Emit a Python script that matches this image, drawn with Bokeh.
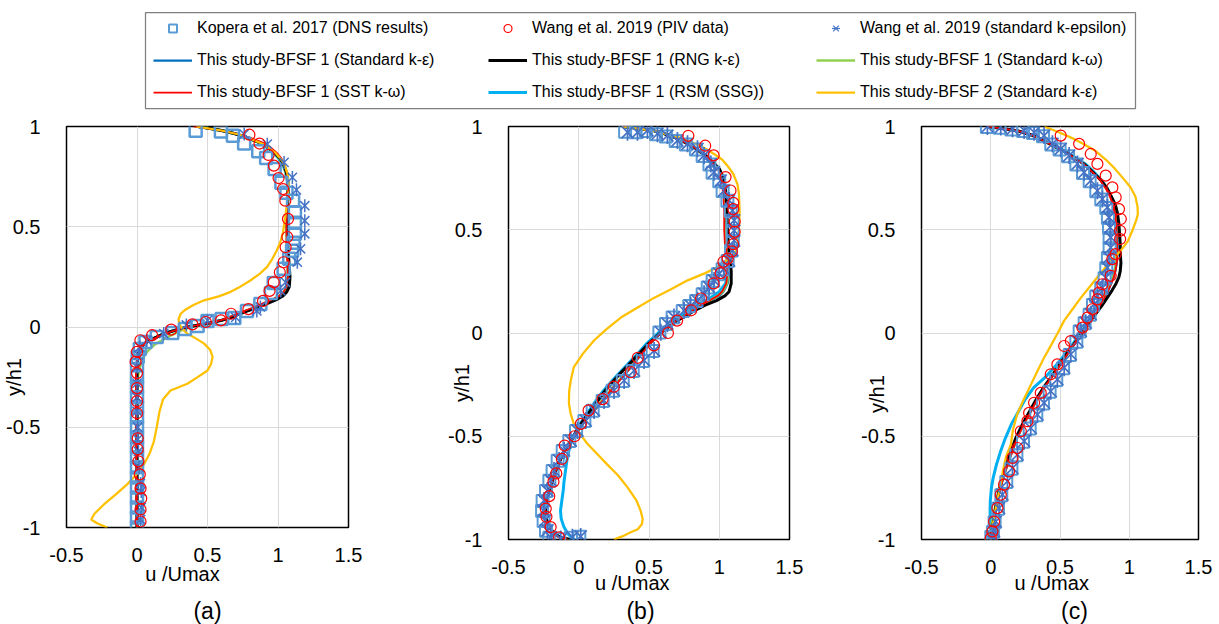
import math
from bokeh.plotting import figure
from bokeh.layouts import column, row
from bokeh.models import Range1d, FixedTicker, Legend, LegendItem
from bokeh.core.properties import value
from bokeh.embed import file_html
from bokeh.resources import INLINE

FONT = "Liberation Sans"
X_TICKS = [-0.5, 0, 0.5, 1, 1.5]
X_TICK_LABELS = ["-0.5", "0", "0.5", "1", "1.5"]
Y_TICKS = [-1, -0.5, 0, 0.5, 1]
Y_TICK_LABELS = ["-1", "-0.5", "0", "0.5", "1"]
X_TITLE = "u /Umax"
Y_TITLE = "y/h1"
PANEL_TAGS = ["(a)", "(b)", "(c)"]
NBSP = "\u00a0"

NAMES = {
    "sq": "Kopera et al. 2017 (DNS results)",
    "ci": "Wang et al. 2019 (PIV data)",
    "as": "Wang et al. 2019 (standard k-epsilon)",
    "ske": "This study-BFSF 1 (Standard k-\u03b5)",
    "rng": "This study-BFSF 1 (RNG k-\u03b5)",
    "skw": "This study-BFSF 1 (Standard k-\u03c9)",
    "sst": "This study-BFSF 1 (SST k-\u03c9)",
    "rsm": "This study-BFSF 1 (RSM (SSG))",
    "bf2": "This study-BFSF 2 (Standard k-\u03b5)",
}

# ---------------- panel (a) ----------------
A_Y = [1.0, 0.99, 0.98, 0.965, 0.945, 0.92, 0.895, 0.87, 0.84, 0.81, 0.77, 0.73, 0.68, 0.6, 0.5,
       0.4, 0.3, 0.25, 0.2, 0.175, 0.155, 0.135, 0.113, 0.095, 0.08, 0.065, 0.047, 0.033, 0.015, 0.0,
       -0.012, -0.025, -0.04, -0.058, -0.075, -0.091, -0.11, -0.133, -0.16, -0.2, -0.25, -0.3, -0.4,
       -0.5, -0.6, -0.7, -0.8, -0.9, -0.95, -1.0]
A_SKE = [0.43, 0.52, 0.6, 0.69, 0.78, 0.87, 0.93, 0.975, 1.015, 1.04, 1.06, 1.07, 1.072, 1.068, 1.064,
         1.066, 1.072, 1.075, 1.066, 1.048, 1.02, 0.97, 0.9, 0.84, 0.78, 0.72, 0.66, 0.6, 0.48, 0.36,
         0.29, 0.235, 0.175, 0.12, 0.075, 0.045, 0.025, 0.012, 0.005, 0.0, 0.0, 0.0, 0.0,
         0.0, 0.0, 0.0, 0.0, 0.0, 0.0, 0.0]
A_RNG = [0.43, 0.52, 0.6, 0.69, 0.78, 0.87, 0.93, 0.975, 1.015, 1.04, 1.06, 1.07, 1.072, 1.068, 1.066,
         1.07, 1.08, 1.085, 1.08, 1.062, 1.035, 0.985, 0.91, 0.845, 0.785, 0.725, 0.665, 0.6, 0.48, 0.36,
         0.29, 0.23, 0.17, 0.115, 0.07, 0.04, 0.02, 0.01, 0.004, 0.0, 0.0, 0.0, 0.0,
         0.0, 0.0, 0.0, 0.0, 0.0, 0.0, 0.0]
A_SKW = [0.43, 0.52, 0.6, 0.69, 0.78, 0.865, 0.925, 0.97, 1.01, 1.035, 1.055, 1.065, 1.068, 1.065, 1.06,
         1.062, 1.068, 1.07, 1.06, 1.042, 1.01, 0.96, 0.89, 0.83, 0.77, 0.715, 0.655, 0.6, 0.49, 0.38,
         0.33, 0.29, 0.245, 0.2, 0.155, 0.12, 0.09, 0.06, 0.04, 0.02, 0.006, 0.0, 0.0,
         0.0, 0.0, 0.0, 0.0, 0.0, 0.0, 0.0]
A_SST = [0.4, 0.5, 0.59, 0.7, 0.8, 0.89, 0.95, 0.99, 1.025, 1.045, 1.062, 1.07, 1.07, 1.064, 1.06,
         1.062, 1.068, 1.07, 1.06, 1.04, 1.008, 0.95, 0.875, 0.815, 0.76, 0.705, 0.65, 0.59, 0.475, 0.355,
         0.29, 0.235, 0.175, 0.12, 0.075, 0.045, 0.025, 0.01, 0.0, -0.005, -0.008, -0.008, -0.006,
         -0.005, -0.004, -0.003, -0.002, 0.0, 0.0, 0.0]
A_RSM = [0.43, 0.52, 0.6, 0.69, 0.78, 0.865, 0.925, 0.965, 1.005, 1.035, 1.055, 1.065, 1.07, 1.068, 1.064,
         1.066, 1.07, 1.072, 1.062, 1.045, 1.015, 0.965, 0.895, 0.835, 0.775, 0.715, 0.655, 0.595, 0.475, 0.355,
         0.285, 0.23, 0.17, 0.115, 0.07, 0.04, 0.02, 0.008, 0.002, 0.0, 0.0, 0.0, 0.0,
         0.0, 0.0, 0.0, 0.0, 0.0, 0.0, 0.0]
A_BF2_Y = [1.0, 0.98, 0.96, 0.94, 0.91, 0.87, 0.82, 0.76, 0.7, 0.62, 0.54, 0.47, 0.42, 0.38, 0.34,
           0.3, 0.265, 0.232, 0.2, 0.174, 0.153, 0.133, 0.11, 0.085, 0.066, 0.04, 0.017, -0.008, -0.033,
           -0.058, -0.083, -0.115, -0.15, -0.185, -0.217, -0.25, -0.283, -0.317, -0.36, -0.42, -0.5,
           -0.57, -0.63, -0.685, -0.74, -0.785, -0.835, -0.885, -0.93, -0.96, -0.98, -1.0]
A_BF2_X = [0.42, 0.6, 0.72, 0.8, 0.9, 0.98, 1.04, 1.07, 1.075, 1.065, 1.05, 1.035, 1.015, 0.99, 0.96,
           0.923, 0.87, 0.804, 0.73, 0.66, 0.58, 0.476, 0.4, 0.34, 0.31, 0.295, 0.298, 0.32, 0.357,
           0.42, 0.476, 0.52, 0.536, 0.525, 0.5, 0.43, 0.357, 0.238, 0.185, 0.16, 0.14,
           0.12, 0.09, 0.05, -0.01, -0.07, -0.15, -0.235, -0.3, -0.325, -0.28, -0.21]
A_SQ_X = [0.416, 0.595, 0.68, 0.76, 0.86, 0.916, 0.976, 1.024, 1.06, 1.107, 1.12, 1.12, 1.12, 1.11, 1.1,
          1.08, 1.04, 0.97, 0.95, 0.875, 0.78, 0.69, 0.6, 0.5, 0.43, 0.34, 0.25, 0.14, 0.06, 0.02,
          0.005, 0.0, 0.0, 0.0, 0.0, 0.0, 0.0, 0.0, 0.0, 0.0, 0.0, 0.0, 0.0, 0.0, 0.0, 0.0, 0.0, 0.0]
A_SQ_Y = [0.979, 0.975, 0.954, 0.915, 0.876, 0.843, 0.788, 0.72, 0.67, 0.63, 0.572, 0.52, 0.465, 0.42, 0.38,
          0.34, 0.29, 0.22, 0.17, 0.115, 0.08, 0.045, 0.04, 0.03, 0.005, -0.01, -0.03, -0.05, -0.075, -0.11,
          -0.15, -0.19, -0.25, -0.3, -0.35, -0.4, -0.45, -0.5, -0.55, -0.6, -0.65, -0.7, -0.75, -0.8,
          -0.85, -0.9, -0.95, -1.0]
A_CI_X = [0.797, 0.869, 0.933, 0.971, 1.004, 1.036, 1.052, 1.071, 1.066, 1.054, 1.04, 1.013, 0.97, 0.94,
          0.894, 0.79, 0.667, 0.595, 0.488, 0.393, 0.243, 0.107, 0.024, 0.0, -0.01, 0.0, 0.0, 0.0, 0.0,
          0.005, 0.005, 0.01, 0.02, 0.025, 0.03, 0.025, 0.025]
A_CI_Y = [0.959, 0.915, 0.858, 0.805, 0.743, 0.688, 0.63, 0.539, 0.449, 0.398, 0.323, 0.273, 0.223, 0.18,
          0.13, 0.089, 0.066, 0.033, 0.025, 0.013, -0.013, -0.041, -0.066, -0.124, -0.174, -0.23, -0.305,
          -0.37, -0.43, -0.555, -0.61, -0.67, -0.735, -0.805, -0.855, -0.91, -0.97]
A_AS_X = [0.76, 0.924, 1.043, 1.102, 1.131, 1.19, 1.19, 1.19, 1.16, 1.137, 1.054, 1.02, 0.875, 0.85, 0.7,
          0.5, 0.35, 0.19, 0.07, 0.02, 0.01, 0.0, 0.0, 0.0, 0.0, 0.005, 0.005, 0.01, 0.015, 0.025, 0.03,
          0.03, 0.025]
A_AS_Y = [0.962, 0.912, 0.821, 0.746, 0.684, 0.605, 0.53, 0.465, 0.39, 0.323, 0.223, 0.18, 0.1, 0.08,
          0.048, 0.033, 0.01, -0.033, -0.066, -0.1, -0.14, -0.2, -0.28, -0.35, -0.42, -0.5, -0.56, -0.62,
          -0.7, -0.78, -0.82, -0.9, -0.96]

# ---------------- panel (b) ----------------
B_Y = [1.0, 0.99, 0.98, 0.965, 0.948, 0.925, 0.9, 0.875, 0.85, 0.82, 0.795, 0.76, 0.72, 0.66, 0.59,
       0.5, 0.43, 0.366, 0.3, 0.24, 0.2, 0.18, 0.157, 0.135, 0.11, 0.085, 0.06, 0.03, 0.0, -0.05,
       -0.1, -0.15, -0.2, -0.26, -0.31, -0.36, -0.43, -0.49, -0.53, -0.57, -0.62, -0.67, -0.72, -0.76,
       -0.81, -0.86, -0.9, -0.94, -0.97, -0.99, -1.0]
B_SKE = [0.31, 0.43, 0.53, 0.61, 0.68, 0.75, 0.82, 0.87, 0.92, 0.965, 1.0, 1.02, 1.03, 1.04, 1.045,
         1.045, 1.05, 1.06, 1.07, 1.06, 1.03, 1.0, 0.94, 0.88, 0.82, 0.76, 0.7, 0.64, 0.585, 0.51,
         0.45, 0.39, 0.33, 0.25, 0.19, 0.13, 0.04, -0.02, -0.06, -0.1, -0.135, -0.165, -0.19, -0.21,
         -0.225, -0.235, -0.23, -0.21, -0.175, -0.13, -0.06]
B_RNG = [0.31, 0.43, 0.53, 0.61, 0.68, 0.75, 0.82, 0.87, 0.92, 0.965, 1.0, 1.025, 1.04, 1.05, 1.055,
         1.058, 1.065, 1.075, 1.085, 1.085, 1.07, 1.04, 0.98, 0.9, 0.83, 0.765, 0.7, 0.64, 0.58, 0.5,
         0.43, 0.36, 0.29, 0.21, 0.155, 0.1, 0.025, -0.03, -0.065, -0.1, -0.135, -0.165, -0.19, -0.21,
         -0.225, -0.235, -0.23, -0.21, -0.175, -0.13, -0.06]
B_SKW = [0.31, 0.43, 0.53, 0.61, 0.68, 0.75, 0.815, 0.865, 0.915, 0.96, 0.995, 1.02, 1.03, 1.04, 1.045,
         1.045, 1.05, 1.058, 1.066, 1.055, 1.025, 0.99, 0.93, 0.87, 0.81, 0.755, 0.695, 0.635, 0.58, 0.505,
         0.445, 0.385, 0.325, 0.245, 0.185, 0.125, 0.035, -0.025, -0.065, -0.1, -0.135, -0.165, -0.19, -0.21,
         -0.225, -0.235, -0.23, -0.21, -0.175, -0.13, -0.06]
B_SST = [0.31, 0.43, 0.53, 0.61, 0.68, 0.75, 0.82, 0.87, 0.915, 0.955, 0.99, 1.01, 1.02, 1.03, 1.035,
         1.035, 1.04, 1.05, 1.06, 1.05, 1.02, 0.99, 0.93, 0.87, 0.81, 0.755, 0.695, 0.64, 0.585, 0.51,
         0.45, 0.39, 0.33, 0.25, 0.19, 0.13, 0.04, -0.02, -0.06, -0.1, -0.135, -0.165, -0.19, -0.21,
         -0.228, -0.24, -0.235, -0.215, -0.18, -0.14, -0.08]
B_RSM = [0.31, 0.43, 0.53, 0.61, 0.68, 0.75, 0.82, 0.87, 0.92, 0.965, 1.0, 1.02, 1.03, 1.04, 1.045,
         1.045, 1.05, 1.058, 1.06, 1.045, 1.0, 0.96, 0.9, 0.84, 0.785, 0.73, 0.675, 0.62, 0.565, 0.485,
         0.42, 0.35, 0.28, 0.2, 0.14, 0.09, 0.02, -0.03, -0.055, -0.07, -0.085, -0.095, -0.105, -0.11,
         -0.12, -0.13, -0.125, -0.105, -0.08, -0.05, -0.03]
B_BF2_Y = [1.0, 0.98, 0.95, 0.92, 0.89, 0.868, 0.84, 0.8, 0.77, 0.72, 0.675, 0.59, 0.5, 0.43, 0.39,
           0.366, 0.345, 0.32, 0.29, 0.255, 0.21, 0.17, 0.12, 0.075, 0.02, -0.035, -0.1, -0.165, -0.23,
           -0.28, -0.34, -0.39, -0.44, -0.49, -0.535, -0.585, -0.635, -0.69, -0.75, -0.81, -0.86, -0.9,
           -0.925, -0.95, -0.965, -0.985, -1.0]
B_BF2_X = [0.31, 0.53, 0.7, 0.82, 0.91, 0.96, 1.02, 1.07, 1.1, 1.13, 1.14, 1.145, 1.14, 1.13, 1.115,
           1.08, 1.04, 0.99, 0.9, 0.775, 0.65, 0.535, 0.41, 0.3, 0.2, 0.11, 0.03, -0.035, -0.057,
           -0.068, -0.07, -0.058, -0.035, 0.01, 0.06, 0.13, 0.2, 0.28, 0.35, 0.41, 0.44, 0.455,
           0.45, 0.42, 0.37, 0.31, 0.25]
B_SQ_X = [0.33, 0.405, 0.478, 0.55, 0.62, 0.69, 0.762, 0.834, 0.882, 0.93, 0.953, 1.0, 1.024, 1.058, 1.082,
          1.095, 1.096, 1.096, 1.084, 1.06, 1.024, 0.99, 0.953, 0.918, 0.882, 0.835, 0.787, 0.74, 0.668,
          0.621, 0.574, 0.526, 0.455, 0.384, 0.313, 0.241, 0.17, 0.099, 0.04, -0.019, -0.067, -0.114,
          -0.15, -0.186, -0.209, -0.233, -0.257, -0.261, -0.25, -0.233, -0.209, -0.138, -0.055, 0.004]
B_SQ_Y = [0.975, 0.972, 0.978, 0.962, 0.952, 0.93, 0.913, 0.889, 0.857, 0.816, 0.776, 0.735, 0.688, 0.64,
          0.591, 0.543, 0.494, 0.446, 0.398, 0.349, 0.309, 0.285, 0.252, 0.22, 0.188, 0.155, 0.131, 0.107,
          0.075, 0.043, 0.002, -0.087, -0.135, -0.184, -0.232, -0.28, -0.329, -0.377, -0.426, -0.474,
          -0.523, -0.571, -0.619, -0.668, -0.716, -0.765, -0.813, -0.862, -0.91, -0.958, -0.991, -0.999,
          -0.991, -0.987]
B_CI_X = [0.78, 0.9, 0.96, 1.045, 1.08, 1.1, 1.1, 1.11, 1.11, 1.1, 1.09, 1.06, 1.03, 1.01, 0.96, 0.87,
          0.8, 0.7, 0.635, 0.535, 0.42, 0.37, 0.25, 0.17, 0.07, 0.015, -0.03, -0.1, -0.12, -0.16, -0.18,
          -0.21, -0.235, -0.23, -0.2, -0.14]
B_CI_Y = [0.955, 0.907, 0.86, 0.755, 0.69, 0.63, 0.6, 0.54, 0.49, 0.43, 0.395, 0.36, 0.345, 0.29, 0.24,
          0.167, 0.11, 0.06, 0.0, -0.06, -0.12, -0.19, -0.26, -0.32, -0.375, -0.44, -0.5, -0.545, -0.61,
          -0.68, -0.72, -0.79, -0.85, -0.89, -0.94, -0.99]
B_AS_X = [0.347, 0.418, 0.489, 0.56, 0.631, 0.702, 0.774, 0.845, 0.892, 0.94, 0.963, 1.01, 1.034, 1.07,
          1.094, 1.106, 1.106, 1.106, 1.094, 1.07, 1.034, 0.999, 0.963, 0.928, 0.892, 0.845, 0.797, 0.75,
          0.678, 0.631, 0.584, 0.536, 0.465, 0.394, 0.323, 0.251, 0.18, 0.109, 0.05, -0.009, -0.057,
          -0.104, -0.14, -0.176, -0.199, -0.223, -0.247, -0.251, -0.24, -0.223, -0.199, -0.128, -0.045, 0.014]
B_AS_Y = [0.972, 0.972, 0.981, 0.965, 0.956, 0.932, 0.916, 0.892, 0.86, 0.819, 0.779, 0.738, 0.69, 0.642,
          0.593, 0.545, 0.496, 0.448, 0.4, 0.351, 0.311, 0.287, 0.254, 0.222, 0.19, 0.157, 0.133, 0.109,
          0.077, 0.045, 0.004, -0.085, -0.133, -0.182, -0.23, -0.278, -0.327, -0.375, -0.424, -0.472,
          -0.521, -0.569, -0.617, -0.666, -0.714, -0.763, -0.811, -0.86, -0.908, -0.956, -0.989, -0.997,
          -0.989, -0.985]

# ---------------- panel (c) ----------------
C_Y = [1.0, 0.99, 0.98, 0.96, 0.93, 0.9, 0.88, 0.85, 0.82, 0.78, 0.74, 0.7, 0.655, 0.62, 0.58,
       0.53, 0.48, 0.43, 0.385, 0.34, 0.3, 0.27, 0.24, 0.2, 0.17, 0.13, 0.09, 0.05, 0.01, -0.055,
       -0.1, -0.15, -0.21, -0.265, -0.32, -0.38, -0.44, -0.51, -0.575, -0.64, -0.7, -0.75, -0.81,
       -0.865, -0.92, -0.96, -1.0]
C_SKE = [-0.02, 0.08, 0.19, 0.29, 0.385, 0.47, 0.53, 0.6, 0.67, 0.735, 0.795, 0.835, 0.87, 0.888, 0.9,
         0.906, 0.91, 0.913, 0.915, 0.91, 0.9, 0.888, 0.87, 0.845, 0.82, 0.785, 0.745, 0.705, 0.67, 0.6,
         0.555, 0.505, 0.445, 0.385, 0.335, 0.29, 0.24, 0.19, 0.155, 0.12, 0.092, 0.07, 0.05,
         0.035, 0.02, 0.01, 0.0]
C_RNG = [-0.02, 0.08, 0.19, 0.29, 0.385, 0.47, 0.53, 0.6, 0.67, 0.735, 0.795, 0.84, 0.875, 0.9, 0.915,
         0.925, 0.93, 0.935, 0.935, 0.94, 0.935, 0.925, 0.905, 0.87, 0.84, 0.8, 0.755, 0.71, 0.67, 0.6,
         0.55, 0.5, 0.44, 0.38, 0.33, 0.28, 0.23, 0.18, 0.145, 0.11, 0.085, 0.065, 0.045,
         0.03, 0.018, 0.008, 0.0]
C_SKW = [-0.02, 0.08, 0.19, 0.29, 0.385, 0.47, 0.53, 0.6, 0.67, 0.735, 0.795, 0.835, 0.87, 0.888, 0.9,
         0.905, 0.908, 0.91, 0.91, 0.905, 0.895, 0.882, 0.865, 0.84, 0.815, 0.78, 0.74, 0.7, 0.665, 0.598,
         0.553, 0.503, 0.443, 0.383, 0.333, 0.288, 0.238, 0.188, 0.152, 0.117, 0.088, 0.065, 0.043,
         0.025, 0.008, -0.005, -0.03]
C_SST = [-0.02, 0.08, 0.19, 0.29, 0.385, 0.47, 0.53, 0.6, 0.668, 0.732, 0.79, 0.83, 0.865, 0.885, 0.898,
         0.905, 0.909, 0.912, 0.914, 0.91, 0.9, 0.888, 0.87, 0.845, 0.82, 0.785, 0.745, 0.705, 0.67, 0.6,
         0.555, 0.505, 0.445, 0.385, 0.335, 0.29, 0.24, 0.19, 0.155, 0.12, 0.092, 0.07, 0.05,
         0.035, 0.02, 0.01, 0.0]
C_RSM = [-0.02, 0.08, 0.19, 0.29, 0.39, 0.48, 0.54, 0.61, 0.68, 0.745, 0.8, 0.84, 0.872, 0.89, 0.9,
         0.906, 0.91, 0.912, 0.912, 0.906, 0.895, 0.88, 0.86, 0.835, 0.81, 0.775, 0.735, 0.695, 0.66, 0.59,
         0.54, 0.48, 0.4, 0.31, 0.25, 0.2, 0.15, 0.105, 0.07, 0.04, 0.018, 0.005, -0.003,
         -0.005, -0.003, 0.0, 0.0]
C_BF2_Y = [1.0, 0.97, 0.94, 0.915, 0.88, 0.84, 0.8, 0.75, 0.705, 0.66, 0.61, 0.575, 0.545, 0.5, 0.445,
           0.4, 0.365, 0.32, 0.27, 0.22, 0.17, 0.11, 0.06, -0.005, -0.06, -0.12, -0.18, -0.25, -0.32,
           -0.395, -0.47, -0.54, -0.6, -0.66, -0.72, -0.8, -0.87, -0.93, -1.0]
C_BF2_X = [0.385, 0.5, 0.6, 0.67, 0.76, 0.83, 0.89, 0.955, 1.01, 1.045, 1.06, 1.062, 1.05, 1.025, 0.99,
           0.94, 0.89, 0.83, 0.77, 0.71, 0.65, 0.585, 0.53, 0.48, 0.435, 0.385, 0.34, 0.29, 0.24,
           0.19, 0.16, 0.145, 0.11, 0.09, 0.075, 0.05, 0.03, 0.015, 0.0]
C_SQ_X = [-0.028, 0.064, 0.149, 0.233, 0.305, 0.377, 0.437, 0.497, 0.558, 0.618, 0.666, 0.714, 0.762,
          0.798, 0.834, 0.846, 0.854, 0.858, 0.858, 0.846, 0.834, 0.822, 0.798, 0.762, 0.738, 0.714,
          0.678, 0.642, 0.618, 0.57, 0.522, 0.473, 0.425, 0.377, 0.329, 0.281, 0.233, 0.185, 0.149,
          0.112, 0.076, 0.052, 0.028, 0.016, 0.004]
C_SQ_Y = [0.998, 0.994, 0.986, 0.978, 0.969, 0.953, 0.913, 0.889, 0.856, 0.816, 0.775, 0.735, 0.686,
          0.646, 0.605, 0.557, 0.508, 0.46, 0.411, 0.363, 0.314, 0.265, 0.217, 0.177, 0.136, 0.088,
          0.047, 0.007, -0.042, -0.106, -0.171, -0.228, -0.285, -0.341, -0.398, -0.463, -0.527, -0.592,
          -0.657, -0.721, -0.786, -0.851, -0.916, -0.964, -0.988]
C_CI_X = [0.505, 0.638, 0.722, 0.77, 0.83, 0.878, 0.902, 0.926, 0.939, 0.934, 0.934, 0.902, 0.878, 0.866,
          0.806, 0.782, 0.77, 0.734, 0.698, 0.662, 0.578, 0.53, 0.481, 0.433, 0.361, 0.313, 0.277, 0.265,
          0.217, 0.193, 0.157, 0.132, 0.096, 0.072, 0.048, 0.024, 0.012, 0.0]
C_CI_Y = [0.956, 0.916, 0.867, 0.819, 0.762, 0.705, 0.657, 0.6, 0.552, 0.495, 0.455, 0.382, 0.358, 0.277,
          0.236, 0.196, 0.163, 0.115, 0.074, 0.026, -0.039, -0.063, -0.152, -0.2, -0.29, -0.338, -0.387,
          -0.427, -0.476, -0.557, -0.605, -0.67, -0.734, -0.783, -0.848, -0.913, -0.961, -0.994]
C_AS_X = [-0.024, 0.072, 0.157, 0.241, 0.313, 0.385, 0.445, 0.505, 0.566, 0.626, 0.674, 0.722, 0.77, 0.806,
          0.842, 0.854, 0.862, 0.866, 0.866, 0.854, 0.842, 0.83, 0.806, 0.77, 0.746, 0.722, 0.686, 0.65,
          0.626, 0.578, 0.53, 0.481, 0.433, 0.385, 0.337, 0.289, 0.241, 0.193, 0.157, 0.12, 0.084, 0.06,
          0.036, 0.024, 0.012]
C_AS_Y = [1.0, 0.997, 0.989, 0.981, 0.972, 0.956, 0.916, 0.892, 0.859, 0.819, 0.778, 0.738, 0.689, 0.649,
          0.608, 0.56, 0.511, 0.463, 0.414, 0.366, 0.317, 0.268, 0.22, 0.18, 0.139, 0.091, 0.05, 0.01,
          -0.039, -0.103, -0.168, -0.225, -0.282, -0.338, -0.395, -0.46, -0.524, -0.589, -0.654, -0.718,
          -0.783, -0.848, -0.913, -0.961, -0.985]

# ---------------- styles ----------------
SQ_COLOR = "#5B9BD5"
CI_COLOR = "#FF0000"
AS_COLOR = "#4472C4"
LINE_STYLE = {
    "rsm": ("#00B0F0", 3.0),
    "ske": ("#0070C0", 2.25),
    "skw": ("#92D050", 2.5),
    "rng": ("#000000", 3.0),
    "sst": ("#FF0000", 1.75),
    "bf2": ("#FFC000", 2.25),
}
LINE_ORDER = ["rsm", "ske", "skw", "rng", "sst", "bf2"]

PANELS = [
    dict(y=A_Y, lines=dict(ske=A_SKE, rng=A_RNG, skw=A_SKW, sst=A_SST, rsm=A_RSM),
         bf2=(A_BF2_X, A_BF2_Y), sq=(A_SQ_X, A_SQ_Y), ci=(A_CI_X, A_CI_Y), ast=(A_AS_X, A_AS_Y),
         fw=282, fh=401, left=66, right=92, ylab_pad=18, ylab_standoff=-22, xlab_pad=9, xlab_standoff=-2,
         ast_size=13, ast_lw=1.5, sq_lw=2.5),
    dict(y=B_Y, lines=dict(ske=B_SKE, rng=B_RNG, skw=B_SKW, sst=B_SST, rsm=B_RSM),
         bf2=(B_BF2_X, B_BF2_Y), sq=(B_SQ_X, B_SQ_Y), ci=(B_CI_X, B_CI_Y), ast=(B_AS_X, B_AS_Y),
         fw=281, fh=413, left=68, right=66, ylab_pad=18, ylab_standoff=-28, xlab_pad=6, xlab_standoff=-5,
         ast_size=17, ast_lw=1.7, sq_lw=2.0),
    dict(y=C_Y, lines=dict(ske=C_SKE, rng=C_RNG, skw=C_SKW, sst=C_SST, rsm=C_RSM),
         bf2=(C_BF2_X, C_BF2_Y), sq=(C_SQ_X, C_SQ_Y), ci=(C_CI_X, C_CI_Y), ast=(C_AS_X, C_AS_Y),
         fw=277, fh=413, left=66, right=21, ylab_pad=22, ylab_standoff=-30, xlab_pad=3, xlab_standoff=-5,
         ast_size=17, ast_lw=1.7, sq_lw=2.0),
]


def add_asterisk(p, xs, ys, size, lw):
    r1 = p.scatter(xs, ys, marker="x", size=size, line_color=AS_COLOR, line_width=lw)
    r2 = p.scatter(xs, ys, marker="dash", angle=math.pi / 2, size=size, line_color=AS_COLOR, line_width=lw)
    return [r1, r2]


def make_panel(cfg):
    p = figure(frame_width=cfg["fw"], frame_height=cfg["fh"],
               x_range=Range1d(-0.5, 1.5), y_range=Range1d(-1, 1),
               toolbar_location=None, output_backend="svg",
               min_border_left=cfg["left"], min_border_right=cfg["right"],
               min_border_top=14, min_border_bottom=58)
    p.background_fill_color = "white"
    p.border_fill_color = "white"
    p.outline_line_color = "black"
    p.outline_line_width = 1.5
    p.xaxis.ticker = FixedTicker(ticks=X_TICKS)
    p.yaxis.ticker = FixedTicker(ticks=Y_TICKS)
    p.xaxis.major_label_overrides = {t: s for t, s in zip(X_TICKS, X_TICK_LABELS)}
    p.yaxis.major_label_overrides = {t: s for t, s in zip(Y_TICKS, Y_TICK_LABELS)}
    for ax in (p.xaxis, p.yaxis):
        ax.axis_line_color = None
        ax.major_tick_line_color = None
        ax.minor_tick_line_color = None
        ax.major_label_text_font = FONT
        ax.major_label_text_font_size = "20px"
        ax.major_label_text_color = "black"
        ax.axis_label_text_font = FONT
        ax.axis_label_text_font_size = "20px"
        ax.axis_label_text_font_style = "normal"
        ax.axis_label_text_color = "black"
    p.xaxis.major_label_standoff = 14
    p.yaxis.major_label_standoff = 20
    p.xaxis.axis_label = X_TITLE + NBSP * cfg["xlab_pad"]
    p.xaxis.axis_label_standoff = cfg["xlab_standoff"]
    p.yaxis.axis_label = Y_TITLE + NBSP * cfg["ylab_pad"]
    p.yaxis.axis_label_standoff = cfg["ylab_standoff"]
    p.xgrid.ticker = FixedTicker(ticks=[0, 0.5, 1])
    p.ygrid.ticker = FixedTicker(ticks=[-0.5, 0, 0.5])
    for g in (p.xgrid, p.ygrid):
        g.grid_line_color = "#D9D9D9"
        g.grid_line_width = 1

    for key in LINE_ORDER:
        col, lw = LINE_STYLE[key]
        if key == "bf2":
            xs, ys = cfg["bf2"]
        else:
            xs, ys = cfg["lines"][key], cfg["y"]
        p.line(xs, ys, line_color=col, line_width=lw)

    p.scatter(cfg["sq"][0], cfg["sq"][1], marker="square", size=12, fill_color=None,
              line_color=SQ_COLOR, line_width=cfg["sq_lw"])
    add_asterisk(p, cfg["ast"][0], cfg["ast"][1], cfg["ast_size"], cfg["ast_lw"])
    p.scatter(cfg["ci"][0], cfg["ci"][1], marker="circle", size=11, fill_color=None,
              line_color=CI_COLOR, line_width=1.2)
    return p


panels = [make_panel(cfg) for cfg in PANELS]

# ---------------- legend strip ----------------
NAN = float("nan")
leg = figure(width=1219, height=112, x_range=Range1d(0, 1), y_range=Range1d(0, 1),
             toolbar_location=None, output_backend="svg",
             x_axis_location=None, y_axis_location=None,
             min_border_left=145, min_border_right=84, min_border_top=12, min_border_bottom=4)
leg.grid.visible = False
leg.outline_line_color = "#7F7F7F"
leg.outline_line_width = 1.25
leg.background_fill_color = "white"
leg.border_fill_color = "white"

dummy = {}
dummy["sq"] = [leg.scatter([NAN], [NAN], marker="square", size=9, fill_color=None,
                           line_color=SQ_COLOR, line_width=2)]
dummy["ci"] = [leg.scatter([NAN], [NAN], marker="circle", size=8, fill_color=None,
                           line_color=CI_COLOR, line_width=1.2)]
dummy["as"] = add_asterisk(leg, [NAN], [NAN], 8, 1.2)
for key in LINE_ORDER:
    col, lw = LINE_STYLE[key]
    dummy[key] = [leg.line([NAN, NAN], [NAN, NAN], line_color=col, line_width=lw)]

LEGEND_COLUMNS = [(["sq", "ske", "sst"], 2), (["ci", "rng", "rsm"], 337), (["as", "skw", "bf2"], 665)]
for keys, xpos in LEGEND_COLUMNS:
    items = [LegendItem(label=value(NAMES[k]), renderers=dummy[k]) for k in keys]
    lg = Legend(items=items, location=(xpos, 0), orientation="vertical", padding=6, spacing=12,
                margin=0, glyph_width=39, glyph_height=20, label_height=20, label_standoff=5,
                label_text_font=FONT, label_text_font_size="16px", label_text_color="black",
                border_line_alpha=0, background_fill_alpha=0)
    leg.add_layout(lg, "center")

# ---------------- panel tags strip ----------------
TAG_X = [207, 640, 1074]
tags = figure(width=1219, height=27, x_range=Range1d(145, 1135), y_range=Range1d(0, 27),
              toolbar_location=None, output_backend="svg",
              x_axis_location=None, y_axis_location=None,
              min_border_left=145, min_border_right=84, min_border_top=0, min_border_bottom=0)
tags.grid.visible = False
tags.outline_line_color = None
tags.background_fill_color = "white"
tags.border_fill_color = "white"
tags.text(x=TAG_X, y=[13.5, 13.5, 13.5], text=PANEL_TAGS, text_align="center", text_baseline="middle",
          text_font=value(FONT), text_font_size=value("23px"), text_color="black")

layout = column(leg, row(*panels), tags)
open("out.html", "w").write(file_html(layout, INLINE))
